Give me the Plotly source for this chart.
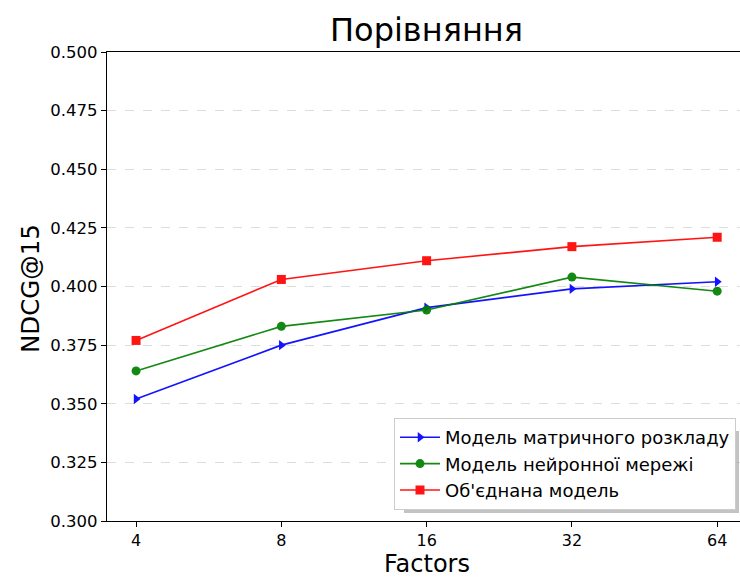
import plotly.graph_objects as go

factors = ["4", "8", "16", "32", "64"]
matrix_model = [0.352, 0.375, 0.391, 0.399, 0.402]
neural_model = [0.364, 0.383, 0.390, 0.404, 0.398]
combined_model = [0.377, 0.403, 0.411, 0.417, 0.421]
y_ticks = [0.300, 0.325, 0.350, 0.375, 0.400, 0.425, 0.450, 0.475, 0.500]

series = [
    ("Модель матричного розкладу", matrix_model, "#0000ff", "triangle-right"),
    ("Модель нейронної мережі", neural_model, "#008000", "circle"),
    ("Об'єднана модель", combined_model, "#ff0000", "square"),
]

W, H = 740, 580
L, T, B = 107, 52, 59
PW, PH = W - L, H - T - B


def px(P):
    return (P - L) / PW


def py(Y):
    return (H - B - Y) / PH


fig = go.Figure()
for name, vals, color, sym in series:
    fig.add_trace(go.Scatter(
        x=factors, y=vals, mode="lines+markers", name=name,
        line=dict(color=color, width=1.6),
        marker=dict(color=color, symbol=sym, size=9, line=dict(width=0)),
        opacity=0.92,
    ))

font = "DejaVu Sans, sans-serif"
fig.update_layout(
    width=W, height=H,
    margin=dict(l=L, r=0, t=T, b=B),
    paper_bgcolor="white", plot_bgcolor="white",
    font=dict(family=font, size=16, color="black"),
    title=dict(text="Порівняння", x=px(426.5), xref="paper", xanchor="center",
               y=1 - 30 / H, yref="container", yanchor="middle",
               font=dict(size=32, family=font)),
    showlegend=True,
    legend=dict(x=px(736), y=py(510), xanchor="right", yanchor="bottom",
                bgcolor="white", bordercolor="#cccccc", borderwidth=1,
                font=dict(size=18, family=font), tracegroupgap=0,
                itemwidth=40),
    annotations=[
        dict(text="NDCG@15", xref="paper", yref="paper", x=px(30), y=py(289),
             xanchor="center", yanchor="middle", textangle=-90,
             showarrow=False, font=dict(size=24.5, family=font)),
        dict(text="Factors", xref="paper", yref="paper", x=px(426.5), y=py(580),
             xanchor="center", yanchor="bottom",
             showarrow=False, font=dict(size=24, family=font)),
    ],
)
fig.update_xaxes(
    type="category", range=[-0.2, 4.157],
    showline=True, linecolor="black", linewidth=1.3, mirror=True,
    ticks="outside", ticklen=5, tickcolor="black", tickwidth=1.3,
    showgrid=False, zeroline=False,
    tickfont=dict(size=16),
)
fig.update_yaxes(
    range=[0.3, 0.5], tickvals=y_ticks,
    ticktext=[f"{v:.3f}" for v in y_ticks],
    showline=True, linecolor="black", linewidth=1.3,
    ticks="outside", ticklen=5, tickcolor="black", tickwidth=1.3,
    showgrid=True, gridcolor="#dddddd", griddash="dash", gridwidth=1.3,
    zeroline=False, tickfont=dict(size=16.5),
)
# legend drop shadow (drawn beneath the legend box)
fig.add_shape(type="rect", xref="paper", yref="paper",
              x0=px(404), x1=px(739), y0=py(513), y1=py(431),
              fillcolor="#888888", opacity=0.5, line=dict(width=0),
              layer="above")
fig.write_html(
    "out.html",
    config={"displayModeBar": False},
    post_script="document.body.style.margin='0';document.body.style.overflow='hidden';",
)
